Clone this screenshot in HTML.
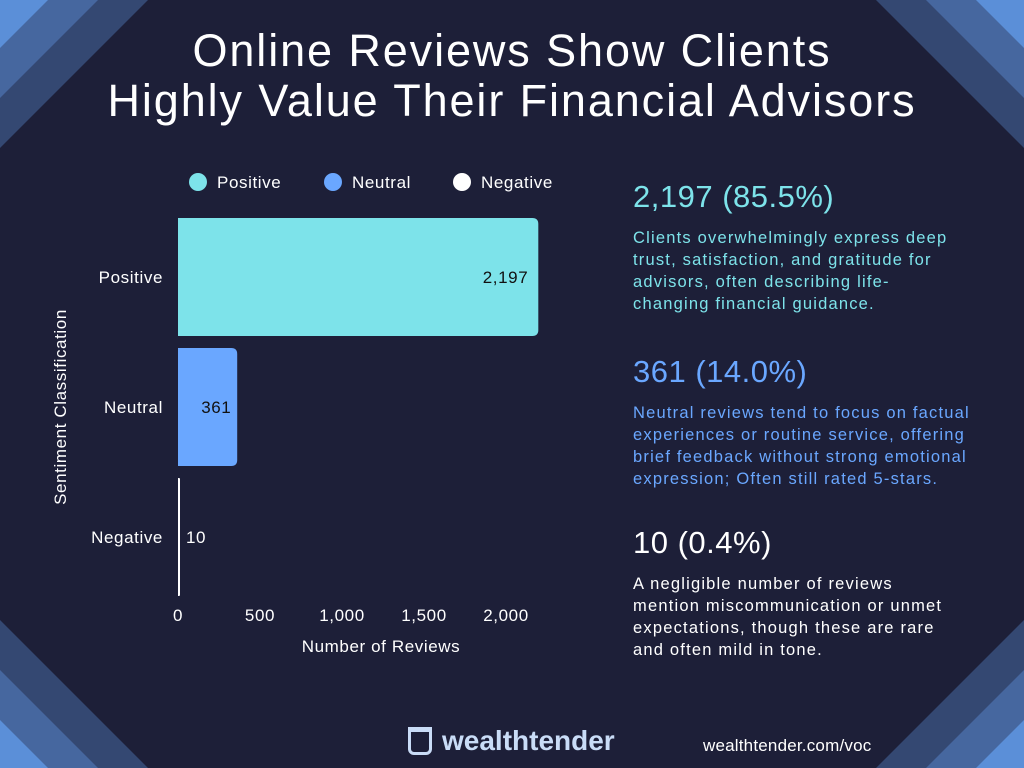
<!DOCTYPE html>
<html><head><meta charset="utf-8"><style>
body{margin:0;width:1024px;height:768px;overflow:hidden;background:#1d1f38;font-family:"Liberation Sans",sans-serif;position:relative}
.title{position:absolute;left:0;width:1024px;top:26px;text-align:center;color:#fff;font-size:45px;line-height:50px;letter-spacing:1.9px}
.stat{position:absolute;left:633px;width:380px;white-space:nowrap}
.stat h2{margin:0;font-weight:normal;font-size:31px;line-height:40px;letter-spacing:0.5px}
.stat p{margin:10px 0 0;font-size:16.5px;line-height:22px;letter-spacing:1.2px}
</style></head><body>
<svg width="1024" height="768" style="position:absolute;left:0;top:0">
<g><polygon points="0,0 148,0 0,148" fill="#344872"/><polygon points="0,0 98,0 0,98" fill="#46679f"/><polygon points="0,0 48,0 0,48" fill="#5b8fd8"/></g>
<g><polygon points="1024,0 876,0 1024,148" fill="#344872"/><polygon points="1024,0 926,0 1024,98" fill="#46679f"/><polygon points="1024,0 976,0 1024,48" fill="#5b8fd8"/></g>
<g><polygon points="0,768 148,768 0,620" fill="#344872"/><polygon points="0,768 98,768 0,670" fill="#46679f"/><polygon points="0,768 48,768 0,720" fill="#5b8fd8"/></g>
<g><polygon points="1024,768 876,768 1024,620" fill="#344872"/><polygon points="1024,768 926,768 1024,670" fill="#46679f"/><polygon points="1024,768 976,768 1024,720" fill="#5b8fd8"/></g>
</svg>
<div class="title">Online Reviews Show Clients<br>Highly Value Their Financial Advisors</div>
<svg id="chart" width="1024" height="768" style="position:absolute;left:0;top:0" font-family="Liberation Sans, sans-serif" letter-spacing="0.6"></svg>
<div class="stat" style="top:177px;color:#7de3ea"><h2>2,197 (85.5%)</h2><p>Clients overwhelmingly express deep<br>trust, satisfaction, and gratitude for<br>advisors, often describing life-<br>changing financial guidance.</p></div>
<div class="stat" style="top:352px;color:#6aa7ff"><h2>361 (14.0%)</h2><p>Neutral reviews tend to focus on factual<br>experiences or routine service, offering<br>brief feedback without strong emotional<br>expression; Often still rated 5-stars.</p></div>
<div class="stat" style="top:523px;color:#fff"><h2>10 (0.4%)</h2><p>A negligible number of reviews<br>mention miscommunication or unmet<br>expectations, though these are rare<br>and often mild in tone.</p></div>
<div style="position:absolute;left:408px;top:725px;color:#c9dcf7;font-size:28px;font-weight:bold;line-height:32px;letter-spacing:0px"><span style="display:inline-block;width:24px;height:28px;border:3px solid #c9dcf7;border-top-width:5px;box-sizing:border-box;border-radius:0 0 6px 6px;vertical-align:-5px;margin-right:10px"></span>wealthtender</div>
<div style="position:absolute;left:703px;top:736px;color:#fff;font-size:17px;letter-spacing:0.2px">wealthtender.com/voc</div>
<script>
const categories=["Positive","Neutral","Negative"];
const values=[2197,361,10];
const valueLabels=["2,197","361","10"];
const colors=["#7de3ea","#6aa7ff","#ffffff"];
const ticks=[0,500,1000,1500,2000];
const tickLabels=["0","500","1,000","1,500","2,000"];
const svg=document.getElementById('chart');
const NS="http://www.w3.org/2000/svg";
const x0=178,scale=328/2000;
const xs=v=>x0+v*scale;
const ys=i=>218+i*130;
function mk(t,a){const e=document.createElementNS(NS,t);for(const k in a)e.setAttribute(k,a[k]);svg.appendChild(e);return e;}
categories.forEach((c,i)=>{
  const w=Math.max(values[i]*scale,2),y=ys(i),h=118,r=Math.min(6,w/2);
  const p=mk('path',{d:`M${x0},${y}H${x0+w-r}Q${x0+w},${y} ${x0+w},${y+r}V${y+h-r}Q${x0+w},${y+h} ${x0+w-r},${y+h}H${x0}Z`,fill:colors[i]});
  
  
  const inside=values[i]>1000;
  const t=mk('text',{x:inside?xs(values[i])-10:(values[i]>100?xs(values[i])-36:x0+8),y:y+h/2+6,'font-size':17,fill:inside||values[i]>100?'#111':'#fff','text-anchor':inside?'end':'start'});
  t.textContent=valueLabels[i];
  
  
  const l=mk('text',{x:163,y:y+h/2+6,'font-size':17,fill:'#fff','text-anchor':'end'});
  l.textContent=c;
  
  
  const lc=[198,333,462][i];
  const cc=mk('circle',{cx:lc,cy:182,r:9,fill:colors[i]});
  
  
  const lt=mk('text',{x:lc+19,y:188,'font-size':17,fill:'#fff'});
  lt.textContent=c;
  
  
});
ticks.forEach((v,i)=>{
  const t=mk('text',{x:xs(v),y:621,'font-size':17,fill:'#fff','text-anchor':'middle'});
  t.textContent=tickLabels[i];
  
  
});
const xt=mk('text',{x:381,y:652,'font-size':17,fill:'#fff','text-anchor':'middle'});
xt.textContent="Number of Reviews";


const yt=mk('text',{x:0,y:0,'font-size':17,fill:'#fff','text-anchor':'middle',transform:'translate(66,407) rotate(-90)'});
yt.textContent="Sentiment Classification";


</script>
</body></html>
